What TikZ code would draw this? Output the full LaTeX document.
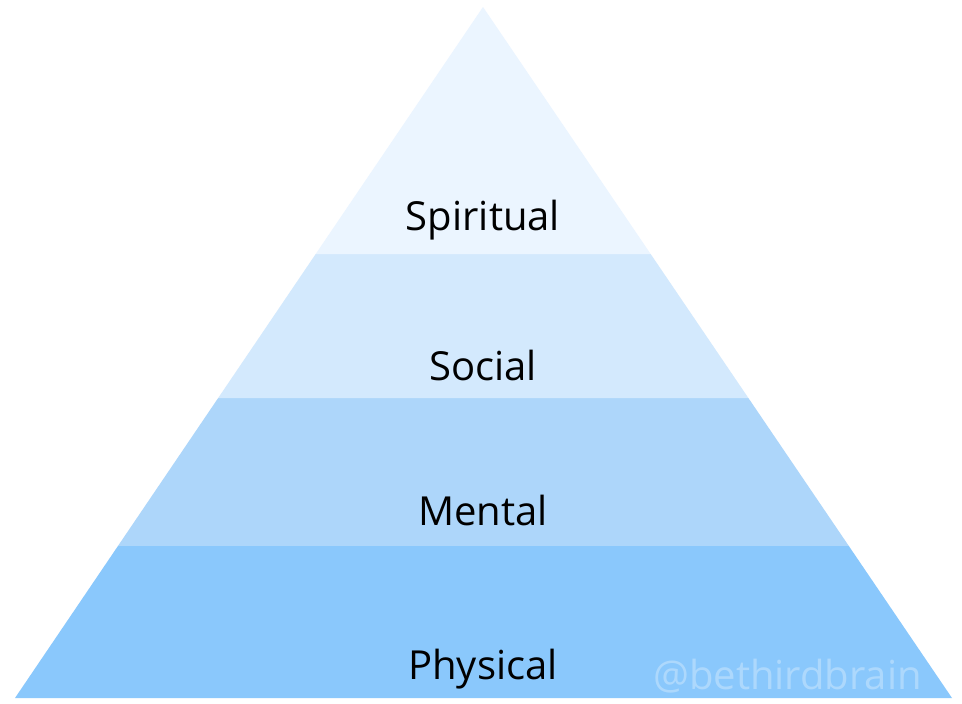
\documentclass[tikz,border=0pt]{standalone}
\usepackage{fontspec}
\setmainfont{Open Sans}
\usetikzlibrary{calc}
\definecolor{cSpi}{HTML}{EBF5FF}
\definecolor{cSoc}{HTML}{D3E9FD}
\definecolor{cMen}{HTML}{ADD6FA}
\definecolor{cPhy}{HTML}{8AC8FC}
\begin{document}
\begin{tikzpicture}[x=1pt,y=-1pt,
  lbl/.style={font=\fontsize{40}{46}\selectfont, text=black, inner sep=0pt, anchor=base},
  band/.style={draw=none}]
\useasboundingbox (0,0) rectangle (962,704);
\fill[white] (0,0) rectangle (962,704);
\coordinate (A) at (483,7);
\coordinate (L) at (15,698);
\coordinate (R) at (952,698);
% bands
\fill[cPhy] ($(A)!{(546-7)/691}!(L)$) -- (L) -- (R) -- ($(A)!{(546-7)/691}!(R)$) -- cycle;
\fill[cMen] ($(A)!{(398-7)/691}!(L)$) -- ($(A)!{(546-7)/691}!(L)$) -- ($(A)!{(546-7)/691}!(R)$) -- ($(A)!{(398-7)/691}!(R)$) -- cycle;
\fill[cSoc] ($(A)!{(254-7)/691}!(L)$) -- ($(A)!{(398-7)/691}!(L)$) -- ($(A)!{(398-7)/691}!(R)$) -- ($(A)!{(254-7)/691}!(R)$) -- cycle;
\fill[cSpi] (A) -- ($(A)!{(254-7)/691}!(L)$) -- ($(A)!{(254-7)/691}!(R)$) -- cycle;
\node[lbl] (spi) at (483,230) {Spiritual};
\node[lbl] (soc) at (483,380) {Social};
\node[lbl] (men) at (483,525) {Mental};
\node[lbl] (phy) at (483,679) {Physical};
\node[lbl, text=white, text opacity=0.3, anchor=base east] (wm) at (922,689) {@bethirdbrain};
\end{tikzpicture}
\end{document}
